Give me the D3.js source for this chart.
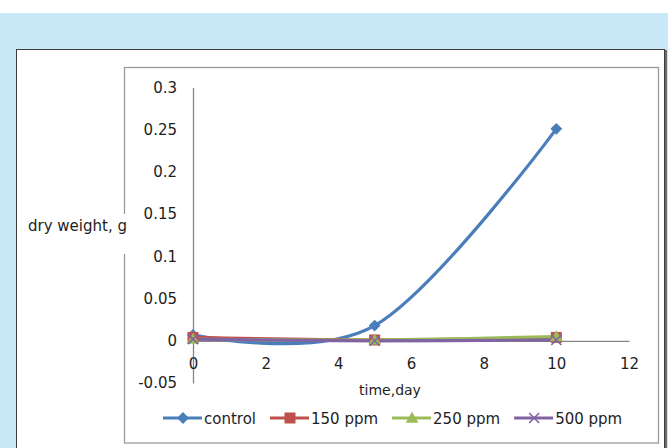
<!DOCTYPE html>
<html>
<head>
<meta charset="utf-8" />
<style type="text/css">
	*{margin:0px;padding:0px;}
	body{background:#fff;}
	svg{display:block;font-family:"DejaVu Sans", sans-serif;}
</style>
</head>
<body>
<script type="text/javascript" src="https://cdn.jsdelivr.net/npm/d3@7/dist/d3.min.js"></script>
<script type="text/javascript">
	// data
	var days = [0, 5, 10];
	var control = [0.007, 0.018, 0.251];
	var ppm150 = [0.004, 0.001, 0.004];
	var ppm250 = [0.002, 0.001, 0.005];
	var ppm500 = [0.002, 0.000, 0.001];
	var seriesNames = ["control", "150 ppm", "250 ppm", "500 ppm"];
	var seriesColors = ["#4a7ebb", "#c0504d", "#9bbb59", "#8064a2"];
	var seriesMarkers = ["diamond", "square", "triangle", "cross"];
	var yTicks = [-0.05, 0, 0.05, 0.1, 0.15, 0.2, 0.25, 0.3];
	var yTickLabels = ["-0.05", "0", "0.05", "0.1", "0.15", "0.2", "0.25", "0.3"];
	var xTicks = [0, 2, 4, 6, 8, 10, 12];
	var xTickLabels = ["0", "2", "4", "6", "8", "10", "12"];

	var allSeries = [control, ppm150, ppm250, ppm500];

	var W = 668, H = 448;
	var svg = d3.select("body").append("svg").attr("width", W).attr("height", H);

	// page background + chart boxes
	svg.append("rect").attr("x", 0).attr("y", 13).attr("width", W).attr("height", H - 13).attr("fill", "#c8e8f8");
	svg.append("rect").attr("x", 16.5).attr("y", 49.5).attr("width", 648).attr("height", 420)
		.attr("fill", "#fff").attr("stroke", "#3c3c3c").attr("stroke-width", 1);
	svg.append("line").attr("x1", 666).attr("x2", 666).attr("y1", 50).attr("y2", H)
		.attr("stroke", "#6a6a6a").attr("stroke-width", 2);
	svg.append("rect").attr("x", 124.5).attr("y", 67.5).attr("width", 534).attr("height", 375.5)
		.attr("fill", "#fff").attr("stroke", "#9a9a9a").attr("stroke-width", 1.3);

	var x = d3.scaleLinear().domain([0, 12]).range([193, 629]);
	var y = d3.scaleLinear().domain([-0.05, 0.3]).range([383, 87.5]);

	// y axis
	var yAxis = svg.append("g").attr("transform", "translate(" + x(0) + ",0)")
		.call(d3.axisLeft(y).tickValues(yTicks).tickFormat(function(d, i){return yTickLabels[i]})
			.tickSize(0).tickSizeOuter(0).tickPadding(16));
	yAxis.select(".domain").attr("stroke", "#868686").attr("stroke-width", 1.3);
	yAxis.selectAll("text").attr("font-size", 15).attr("fill", "#1e1e1e")
		.attr("font-family", "DejaVu Sans");

	// x axis at y = 0
	var xAxis = svg.append("g").attr("transform", "translate(0," + y(0) + ")")
		.call(d3.axisBottom(x).tickValues(xTicks).tickFormat(function(d, i){return xTickLabels[i]})
			.tickSize(0).tickSizeOuter(0).tickPadding(18));
	xAxis.select(".domain").attr("stroke", "#868686").attr("stroke-width", 1.3);
	xAxis.selectAll("text").attr("font-size", 15).attr("fill", "#1e1e1e")
		.attr("font-family", "DejaVu Sans");

	// axis titles (white patch breaks the plot box border like the original)
	var patch = svg.append("rect").attr("fill", "#fff");
	var yTitle = svg.append("text").attr("x", 28).attr("y", 231).attr("font-size", 15)
		.attr("fill", "#1e1e1e").text("dry weight, g");
	var bb = yTitle.node().getBBox();
	patch.attr("x", bb.x - 2).attr("y", 214).attr("width", bb.width + 4).attr("height", 40);
	svg.append("text").attr("x", 390).attr("y", 395).attr("text-anchor", "middle").attr("font-size", 14)
		.attr("fill", "#1e1e1e").text("time,day");

	// markers
	function drawMarker(g, type, color, cx, cy)
	{
		if(type == "diamond")
			g.append("path").attr("d", d3.symbol(d3.symbolSquare, 70)()).attr("transform", "translate(" + cx + "," + cy + ") rotate(45)")
				.attr("fill", color);
		else if(type == "square")
			g.append("rect").attr("x", cx - 5.5).attr("y", cy - 5.5).attr("width", 11).attr("height", 11).attr("fill", color);
		else if(type == "triangle")
			g.append("path").attr("d", d3.symbol(d3.symbolTriangle, 70)()).attr("transform", "translate(" + cx + "," + (cy + 1) + ")")
				.attr("fill", color);
		else
			g.append("path").attr("d", "M-5,-5L5,5M-5,5L5,-5").attr("transform", "translate(" + cx + "," + cy + ")")
				.attr("stroke", color).attr("stroke-width", 1.6).attr("fill", "none");
	}

	var line = d3.line().x(function(d){return x(d[0])}).y(function(d){return y(d[1])})
		.curve(d3.curveCardinal.tension(0));

	var plot = svg.append("g");
	allSeries.forEach(function(vals, s){
		var pts = days.map(function(d, i){return [d, vals[i]]});
		plot.append("path").datum(pts).attr("d", line).attr("fill", "none")
			.attr("stroke", seriesColors[s]).attr("stroke-width", 3.2);
	});
	allSeries.forEach(function(vals, s){
		days.forEach(function(d, i){
			drawMarker(plot, seriesMarkers[s], seriesColors[s], x(d), y(vals[i]));
		});
	});

	// legend
	var lx = 163, ly = 418;
	var legend = svg.append("g");
	seriesNames.forEach(function(name, s){
		var g = legend.append("g");
		g.append("line").attr("x1", lx).attr("x2", lx + 39).attr("y1", ly).attr("y2", ly)
			.attr("stroke", seriesColors[s]).attr("stroke-width", 3.2);
		drawMarker(g, seriesMarkers[s], seriesColors[s], lx + 20, ly);
		var t = g.append("text").attr("x", lx + 41).attr("y", ly + 5.5).attr("font-size", 15)
			.attr("fill", "#1e1e1e").text(name);
		lx = lx + 41 + t.node().getComputedTextLength() + 14;
	});
</script>
</body>
</html>
